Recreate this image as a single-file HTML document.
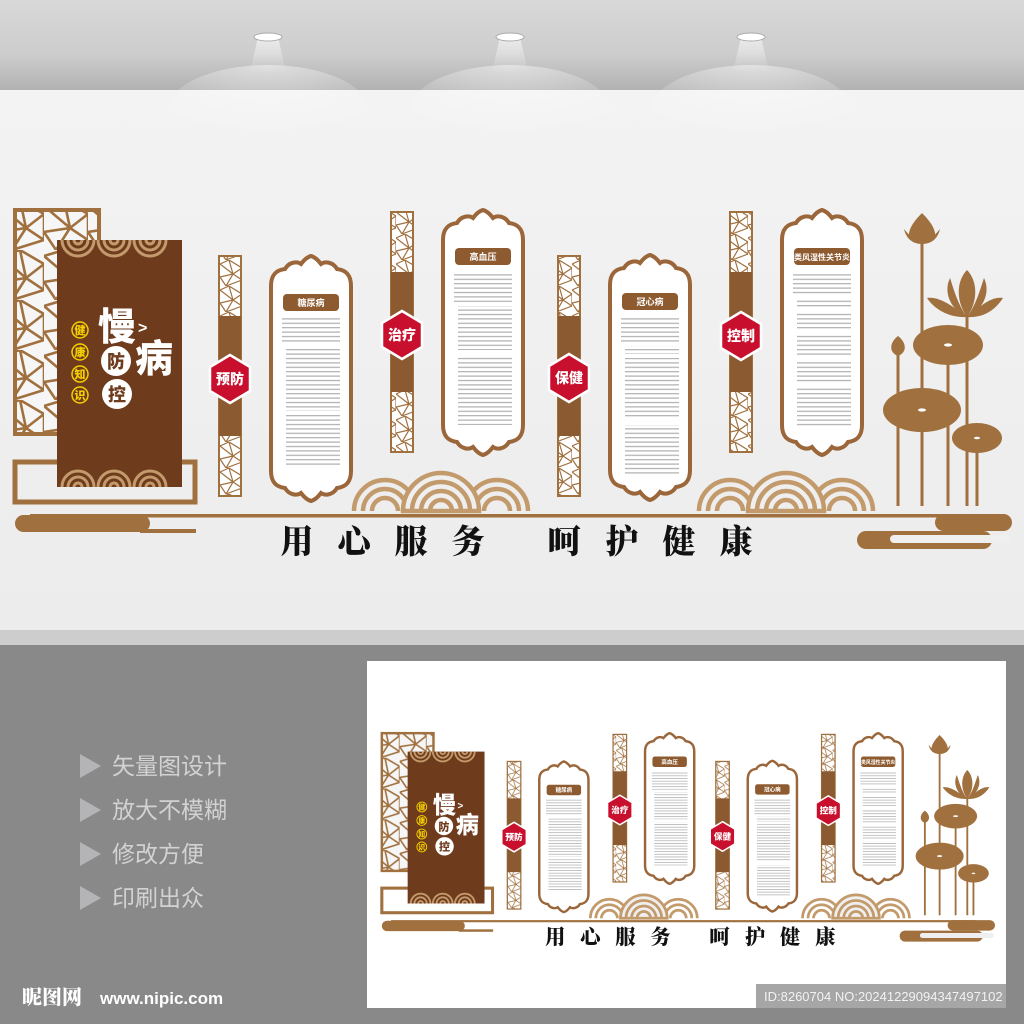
<!DOCTYPE html>
<html><head><meta charset="utf-8"><style>
html,body{margin:0;padding:0;width:1024px;height:1024px;overflow:hidden;background:#898989}
svg{display:block}
</style></head><body>
<svg width="1024" height="1024" viewBox="0 0 1024 1024" xmlns="http://www.w3.org/2000/svg" font-family="'Liberation Sans','Noto Sans CJK SC',sans-serif">
<defs>
<linearGradient id="ceil" x1="0" y1="0" x2="0" y2="1"><stop offset="0" stop-color="#d8d8d8"/><stop offset="0.6" stop-color="#cdcdcd"/><stop offset="1" stop-color="#b2b2b2"/></linearGradient>
<linearGradient id="wall" x1="0" y1="0" x2="0" y2="1"><stop offset="0" stop-color="#f3f3f3"/><stop offset="1" stop-color="#ececec"/></linearGradient>
<linearGradient id="beam" x1="0" y1="0" x2="0" y2="1"><stop offset="0" stop-color="#fff" stop-opacity="0.6"/><stop offset="1" stop-color="#fff" stop-opacity="0"/></linearGradient>
<radialGradient id="glow" cx="0.5" cy="0" r="0.8"><stop offset="0" stop-color="#fff" stop-opacity="0.45"/><stop offset="1" stop-color="#fff" stop-opacity="0"/></radialGradient>
<pattern id="lat" width="22" height="26" patternUnits="userSpaceOnUse">
<rect width="22" height="26" fill="#fff"/>
<g stroke="#a0703f" stroke-width="1.2" fill="none">
<path d="M0,4 L9,0 L22,8 L13,14 L0,4 M9,0 L13,14 L6,26 M13,14 L22,20 M0,17 L6,26 M0,17 L13,14 M22,8 L22,20 M6,26 L22,20"/>
</g></pattern>
<pattern id="lat2" width="44" height="50" patternUnits="userSpaceOnUse">
<rect width="44" height="50" fill="#f6f6f6"/>
<g stroke="#a0703f" stroke-width="2.6" fill="none">
<path d="M0,6 L20,0 L44,14 L26,28 L0,6 M20,0 L26,28 L12,50 M26,28 L44,40 M0,32 L12,50 M0,32 L26,28 M44,14 L44,40 M12,50 L44,40"/>
</g></pattern>
<pattern id="txt" width="60" height="4.4" patternUnits="userSpaceOnUse">
<rect x="0" y="1.5" width="60" height="1.2" fill="#9a9a9a"/>
</pattern>
<path id="pnl" d="M0,30 C0,18 6,14 14,13 C18,6 26,5 30,8 C33,4 36,1 40,0 C44,1 47,4 50,8 C54,5 62,6 66,13 C74,14 80,18 80,30 L80,215 C80,227 74,231 66,232 C62,239 54,240 50,237 C47,241 44,244 40,245 C36,244 33,241 30,237 C26,240 18,239 14,232 C6,231 0,227 0,215 Z"/>
<g id="design">
<rect x="15" y="210" width="84" height="224" fill="url(#lat2)" stroke="#a0703f" stroke-width="4"/>
<rect x="15" y="462" width="180" height="40" fill="none" stroke="#a0703f" stroke-width="5"/>
<rect x="57" y="240" width="125" height="247" fill="#6e3b1c"/>
<g fill="none" stroke="#c39a6b" stroke-width="3">
<path d="M62,240 A16,16 0 0 0 94,240 M68,240 A10,10 0 0 0 88,240 M74,240 A4,4 0 0 0 82,240"/>
<path d="M98,240 A16,16 0 0 0 130,240 M104,240 A10,10 0 0 0 124,240 M110,240 A4,4 0 0 0 118,240"/>
<path d="M134,240 A16,16 0 0 0 166,240 M140,240 A10,10 0 0 0 160,240 M146,240 A4,4 0 0 0 154,240"/>
<path d="M62,487 A16,16 0 0 1 94,487 M68,487 A10,10 0 0 1 88,487 M74,487 A4,4 0 0 1 82,487"/>
<path d="M98,487 A16,16 0 0 1 130,487 M104,487 A10,10 0 0 1 124,487 M110,487 A4,4 0 0 1 118,487"/>
<path d="M134,487 A16,16 0 0 1 166,487 M140,487 A10,10 0 0 1 160,487 M146,487 A4,4 0 0 1 154,487"/>
</g>
<g font-family="'Liberation Sans','Noto Sans CJK SC',sans-serif" font-weight="900">
<text x="117" y="340" font-size="38" fill="#fff" text-anchor="middle">慢</text>
<text x="138" y="333" font-size="16" fill="#fff">&gt;</text>
<text x="154" y="372" font-size="38" fill="#fff" text-anchor="middle">病</text>
<circle cx="116" cy="361" r="15" fill="#fff"/><text x="116" y="368" font-size="18" fill="#6e3b1c" text-anchor="middle">防</text>
<circle cx="117" cy="394" r="15" fill="#fff"/><text x="117" y="401" font-size="18" fill="#6e3b1c" text-anchor="middle">控</text>
<g fill="none" stroke="#f5d000" stroke-width="1.5"><circle cx="80" cy="330" r="8"/><circle cx="80" cy="352" r="8"/><circle cx="80" cy="374" r="8"/><circle cx="80" cy="395" r="8"/></g>
<g font-size="11" fill="#f5d000" text-anchor="middle"><text x="80" y="334">健</text><text x="80" y="356">康</text><text x="80" y="378">知</text><text x="80" y="399">识</text></g>
</g>
<g stroke="#a0703f" stroke-width="2">
<rect x="219" y="256" width="22" height="240" fill="url(#lat)"/>
<rect x="391" y="212" width="22" height="240" fill="url(#lat)"/>
<rect x="558" y="256" width="22" height="240" fill="url(#lat)"/>
<rect x="730" y="212" width="22" height="240" fill="url(#lat)"/>
</g>
<g fill="#8b5a30">
<rect x="219" y="316" width="22" height="120"/>
<rect x="391" y="272" width="22" height="120"/>
<rect x="558" y="316" width="22" height="120"/>
<rect x="730" y="272" width="22" height="120"/>
</g>
<g stroke="#fff" stroke-width="2.5" fill="#c8102e">
<path d="M230,355 L250,367 L250,391 L230,403 L210,391 L210,367 Z"/>
<path d="M402,311 L422,323 L422,347 L402,359 L382,347 L382,323 Z"/>
<path d="M569,354 L589,366 L589,390 L569,402 L549,390 L549,366 Z"/>
<path d="M741,312 L761,324 L761,348 L741,360 L721,348 L721,324 Z"/>
</g>
<g fill="#fff" font-size="14" font-weight="900" text-anchor="middle">
<text x="230" y="384">预防</text><text x="402" y="340">治疗</text><text x="569" y="383">保健</text><text x="741" y="341">控制</text>
</g>
<g fill="#fff" stroke="#9a663a" stroke-width="4">
<use href="#pnl" transform="translate(271,256)"/>
<use href="#pnl" transform="translate(443,210)"/>
<use href="#pnl" transform="translate(610,255)"/>
<use href="#pnl" transform="translate(782,210)"/>
</g>
<g fill="#8e5b30">
<rect x="283" y="294" width="56" height="17" rx="4"/>
<rect x="455" y="248" width="56" height="17" rx="4"/>
<rect x="622" y="293" width="56" height="17" rx="4"/>
<rect x="794" y="248" width="56" height="17" rx="4"/>
</g>
<g fill="#fff" font-size="9" font-weight="700" text-anchor="middle">
<text x="311" y="306">糖尿病</text><text x="483" y="260">高血压</text><text x="650" y="305">冠心病</text><text x="822" y="260" font-size="8">类风湿性关节炎</text>
</g>
<g fill="url(#txt)" opacity="0.8">
<rect x="282" y="318" width="58" height="26"/><rect x="286" y="349" width="54" height="62"/><rect x="286" y="415" width="54" height="50"/>
<rect x="454" y="272" width="58" height="30"/><rect x="458" y="306" width="54" height="44"/><rect x="458" y="355" width="54" height="70"/>
<rect x="621" y="316" width="58" height="28"/><rect x="625" y="346" width="54" height="8"/><rect x="625" y="358" width="54" height="60"/><rect x="625" y="425" width="54" height="50"/>
<rect x="793" y="272" width="58" height="24"/><rect x="797" y="300" width="54" height="8"/><rect x="797" y="312" width="54" height="18"/><rect x="797" y="334" width="54" height="22"/><rect x="797" y="360" width="54" height="22"/><rect x="797" y="386" width="54" height="40"/>
</g>
<g fill="#efefef" stroke="#c39a6b" stroke-width="4.5">
<g>
<path d="M354,511 A31,31 0 0 1 416,511 M363,511 A22,22 0 0 1 407,511 M372,511 A13,13 0 0 1 398,511" fill="none"/>
<path d="M466,511 A31,31 0 0 1 528,511 M475,511 A22,22 0 0 1 519,511 M484,511 A13,13 0 0 1 510,511" fill="none"/>
<path d="M403,511 A38,38 0 0 1 479,511 Z"/>
<path d="M412,511 A29,29 0 0 1 470,511 M421,511 A20,20 0 0 1 461,511 M430,511 A11,11 0 0 1 452,511" fill="none"/>
</g>
<g transform="translate(345,0)">
<path d="M354,511 A31,31 0 0 1 416,511 M363,511 A22,22 0 0 1 407,511 M372,511 A13,13 0 0 1 398,511" fill="none"/>
<path d="M466,511 A31,31 0 0 1 528,511 M475,511 A22,22 0 0 1 519,511 M484,511 A13,13 0 0 1 510,511" fill="none"/>
<path d="M403,511 A38,38 0 0 1 479,511 Z"/>
<path d="M412,511 A29,29 0 0 1 470,511 M421,511 A20,20 0 0 1 461,511 M430,511 A11,11 0 0 1 452,511" fill="none"/>
</g>
</g>
<g stroke="#a0703f" stroke-width="3" fill="none">
<path d="M898,345 V506 M922,230 V506 M948,345 V506 M967,300 V506 M977,438 V506"/>
</g>
<g fill="#a0703f">
<ellipse cx="948" cy="345" rx="35" ry="20"/>
<ellipse cx="922" cy="410" rx="39" ry="22"/>
<ellipse cx="977" cy="438" rx="25" ry="15"/>
<path d="M922,213 C913,222 906,232 910,240 L922,244 L934,240 C938,232 931,222 922,213 Z"/>
<path d="M904,229 C906,238 912,244 922,244 C914,240 908,234 904,229 Z M940,229 C938,238 932,244 922,244 C930,240 936,234 940,229 Z"/>
<path d="M898,336 C890,342 888,352 898,356 C908,352 906,342 898,336 Z"/>
<path d="M967,270 C957,280 955,300 967,317 C979,300 977,280 967,270 Z"/>
<path d="M950,278 C944,290 948,308 967,317 C958,305 954,290 950,278 Z M984,278 C990,290 986,308 967,317 C976,305 980,290 984,278 Z"/>
<path d="M927,298 C940,296 955,308 967,317 C950,318 935,310 927,298 Z M1003,298 C990,296 979,308 967,317 C984,318 995,310 1003,298 Z"/>
</g>
<g fill="#fff"><ellipse cx="948" cy="345" rx="4" ry="1.6"/><ellipse cx="922" cy="410" rx="4" ry="1.6"/><ellipse cx="977" cy="438" rx="3" ry="1.3"/></g>
<rect x="30" y="514" width="950" height="3.5" fill="#a0703f"/>
<rect x="15" y="515" width="135" height="17" rx="8.5" fill="#a0703f"/>
<rect x="140" y="529" width="56" height="4" fill="#a0703f"/>
<rect x="935" y="514" width="77" height="17" rx="8.5" fill="#a0703f"/>
<rect x="857" y="531" width="135" height="18" rx="9" fill="#a0703f"/>
<rect x="890" y="535" width="120" height="8" rx="4" fill="#efefef"/>
<g font-family="'Noto Serif CJK SC','WenQuanYi Zen Hei',serif" font-weight="900" font-size="33" fill="#111" text-anchor="middle">
<text x="297" y="553">用</text><text x="354" y="553">心</text><text x="411" y="553">服</text><text x="468" y="553">务</text>
<text x="564" y="553">呵</text><text x="622" y="553">护</text><text x="679" y="553">健</text><text x="736" y="553">康</text>
</g>
</g>
</defs>

<rect x="0" y="0" width="1024" height="90" fill="url(#ceil)"/>
<rect x="0" y="90" width="1024" height="540" fill="url(#wall)"/>
<g>
<ellipse cx="268" cy="110" rx="100" ry="45" fill="url(#glow)"/>
<ellipse cx="510" cy="110" rx="100" ry="45" fill="url(#glow)"/>
<ellipse cx="751" cy="110" rx="100" ry="45" fill="url(#glow)"/>
<path d="M258,37 L278,37 L286,72 L250,72 Z" fill="url(#beam)"/>
<path d="M500,37 L520,37 L528,72 L492,72 Z" fill="url(#beam)"/>
<path d="M741,37 L761,37 L769,72 L733,72 Z" fill="url(#beam)"/>
<ellipse cx="268" cy="37" rx="14" ry="4" fill="#fff" stroke="#aaa" stroke-width="1"/>
<ellipse cx="510" cy="37" rx="14" ry="4" fill="#fff" stroke="#aaa" stroke-width="1"/>
<ellipse cx="751" cy="37" rx="14" ry="4" fill="#fff" stroke="#aaa" stroke-width="1"/>
</g>
<use href="#design"/>
<rect x="0" y="630" width="1024" height="15" fill="#cdcdcd"/>
<rect x="0" y="645" width="1024" height="379" fill="#898989"/>
<g fill="#b4b4b6"><path d="M80,754 L101,766 L80,778 Z"/><path d="M80,798 L101,810 L80,822 Z"/><path d="M80,842 L101,854 L80,866 Z"/><path d="M80,886 L101,898 L80,910 Z"/></g>
<g fill="#d2d2d2" font-size="23"><text x="112" y="774">矢量图设计</text><text x="112" y="818">放大不模糊</text><text x="112" y="862">修改方便</text><text x="112" y="906">印刷出众</text></g>
<text x="22" y="1004" fill="#fff" font-size="20" font-weight="900" font-family="'Noto Serif CJK SC',serif">昵图网</text>
<text x="100" y="1004" fill="#fff" font-size="17" font-weight="700">www.nipic.com</text>
<rect x="367" y="661" width="639" height="347" fill="#fff"/>
<g transform="translate(372.6,604) scale(0.615)"><use href="#design"/></g>
<rect x="756" y="984" width="250" height="24" fill="#a6a6a6"/>
<text x="764" y="1001" fill="#f2f2f2" font-size="13">ID:8260704 NO:20241229094347497102</text>
</svg>
</body></html>
